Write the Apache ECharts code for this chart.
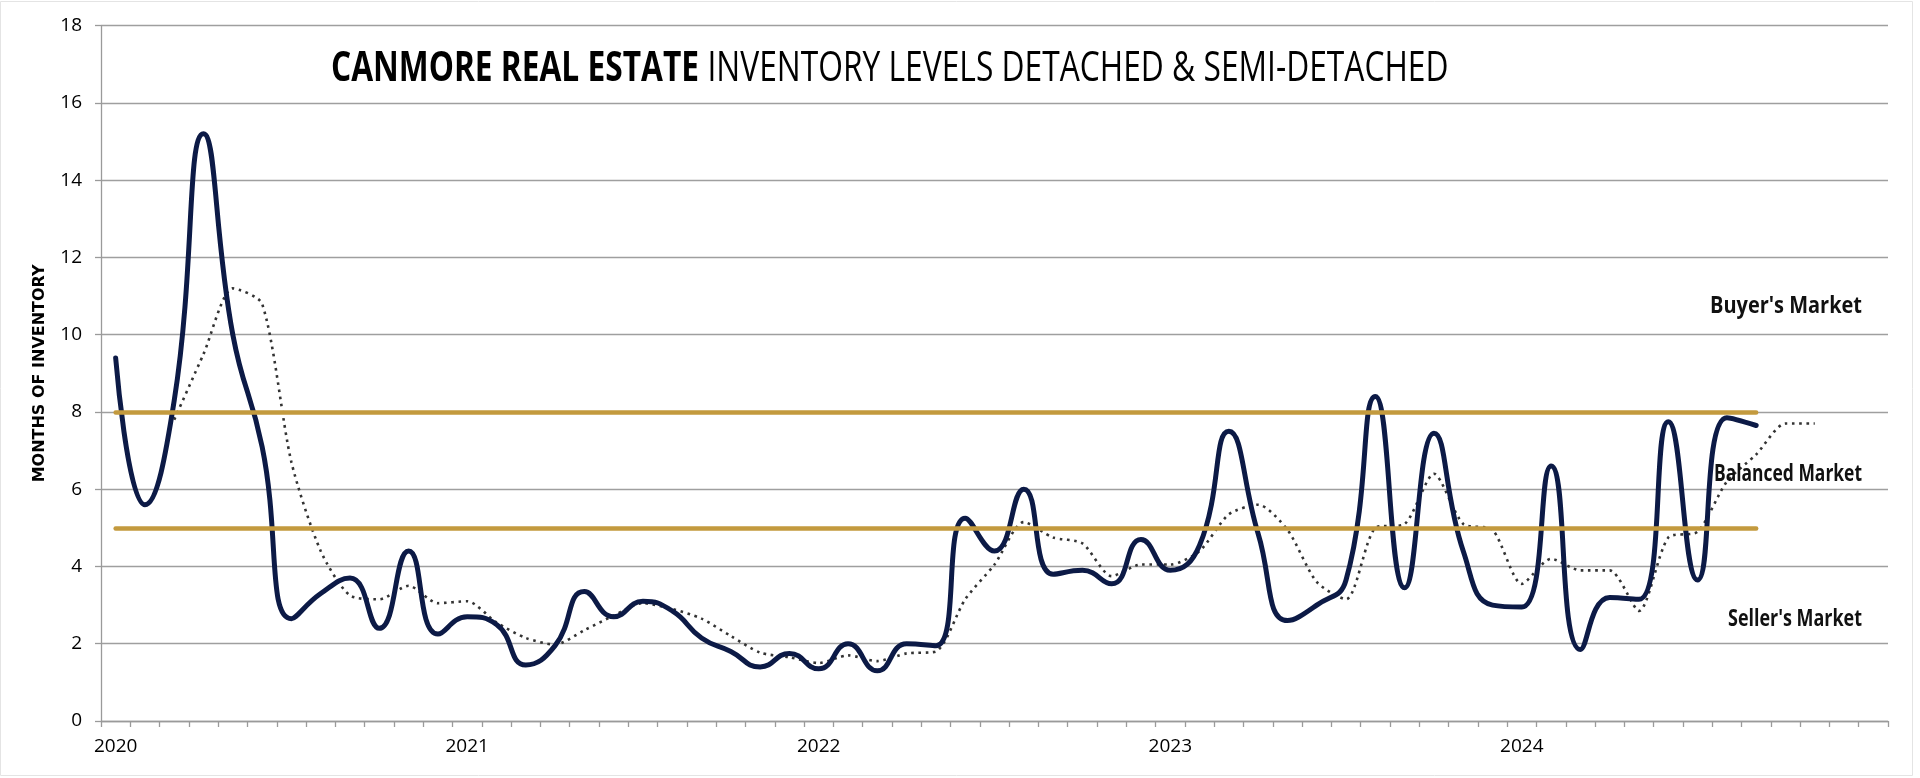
<!DOCTYPE html>
<html>
<head>
<meta charset="utf-8">
<style>
html,body{margin:0;padding:0;background:#fff;}
#chart{width:1920px;height:778px;}
</style>
<script src="https://cdn.jsdelivr.net/npm/echarts@6/dist/echarts.min.js"></script>
</head>
<body>
<div id="chart"></div>
<script>
// ---- DATA ----
const months = [
 '2020-01','2020-02','2020-03','2020-04','2020-05','2020-06','2020-07','2020-08','2020-09','2020-10','2020-11','2020-12',
 '2021-01','2021-02','2021-03','2021-04','2021-05','2021-06','2021-07','2021-08','2021-09','2021-10','2021-11','2021-12',
 '2022-01','2022-02','2022-03','2022-04','2022-05','2022-06','2022-07','2022-08','2022-09','2022-10','2022-11','2022-12',
 '2023-01','2023-02','2023-03','2023-04','2023-05','2023-06','2023-07','2023-08','2023-09','2023-10','2023-11','2023-12',
 '2024-01','2024-02','2024-03','2024-04','2024-05','2024-06','2024-07','2024-08','2024-09','2024-10','2024-11','2024-12',
 '2025-01'
];
const yearTickLabels = ['2020','2021','2022','2023','2024'];

// Monthly months-of-inventory (solid line)
const inventory = [
 9.4, 5.6, 8.3, 15.2, 10.0, 7.1, 2.65, 3.3, 3.7, 2.4, 4.4, 2.25,
 2.7, 2.5, 1.45, 1.95, 3.35, 2.7, 3.1, 2.85, 2.15, 1.8, 1.4, 1.75,
 1.35, 2.0, 1.3, 2.0, 1.95, 5.25, 4.4, 6.0, 3.8, 3.9, 3.55, 4.7,
 3.9, 4.55, 7.5, 4.85, 2.6, 3.0, 3.65, 8.4, 3.45, 7.45, 4.4, 3.0,
 2.95, 6.6, 1.85, 3.2, 3.15, 7.75, 3.65, 7.85, 7.65
];
// Trend (dotted line)
const trend = [
 null, null, 7.8, 9.5, 11.2, 10.8, 6.7, 4.4, 3.25, 3.15, 3.5, 3.05,
 3.1, 2.55, 2.15, 1.98, 2.35, 2.73, 3.05, 2.9, 2.65, 2.2, 1.77, 1.65,
 1.5, 1.7, 1.55, 1.75, 1.8, 3.15, 4.05, 5.15, 4.75, 4.6, 3.75, 4.05,
 4.05, 4.4, 5.35, 5.6, 4.95, 3.6, 3.15, 5.0, 5.1, 6.4, 5.1, 4.95,
 3.55, 4.2, 3.9, 3.9, 2.85, 4.75, 4.9, 6.2, 6.9, 7.7, 7.7
];
// Market thresholds
const balancedLow = 5;
const balancedHigh = 8;
const zoneLabels = ["Buyer's Market", "Balanced Market", "Seller's Market"];
const yTicks = {min: 0, max: 18, interval: 2};

// ---- LAYOUT HELPERS ----
function measure(text, font){
  const c = document.createElement('canvas').getContext('2d');
  c.font = font;
  return c.measureText(text).width;
}
const FAM = '"Open Sans", "Noto Sans", sans-serif';
const titleBoldFont = 'bold 42px ' + FAM;
const titleRegFont = '42px ' + FAM;
const titleBold = 'CANMORE REAL ESTATE';
const titleReg = 'INVENTORY LEVELS DETACHED & SEMI-DETACHED';
const sBold = 368 / measure(titleBold, titleBoldFont);
const sReg = 741 / measure(titleReg, titleRegFont);
const zoneFont = 'bold 23px ' + FAM;
const zoneWidths = [152, 148, 134];
const zoneScale = zoneLabels.map((t, i) => zoneWidths[i] / measure(t, zoneFont));

const GOLD = '#C39A3E';
const NAVY = '#0C1A46';
const lastCat = months[inventory.length - 1];

const chart = echarts.init(document.getElementById('chart'), null, {renderer: 'canvas'});
const zoneY = [306, 474, 619];
const option = {
  animation: false,
  backgroundColor: '#fff',
  grid: {left: 101, right: 32, top: 25.7, bottom: 57, containLabel: false},
  xAxis: {
    type: 'category',
    data: months,
    boundaryGap: true,
    axisLine: {show: true, lineStyle: {color: '#9a9a9a', width: 1.3}},
    axisTick: {show: true, interval: 0, length: 6, lineStyle: {color: '#9a9a9a', width: 1.3}},
    axisLabel: {
      interval: 0,
      margin: 16,
      color: '#000',
      fontFamily: '"Open Sans"',
      fontSize: 19,
      formatter: function(v){
        const y = v.slice(0,4), m = v.slice(5);
        return (m === '01' && yearTickLabels.indexOf(y) >= 0) ? y : '';
      }
    },
    splitLine: {show: false}
  },
  yAxis: {
    type: 'value',
    min: yTicks.min, max: yTicks.max, interval: yTicks.interval,
    name: 'MONTHS OF INVENTORY',
    nameLocation: 'middle',
    nameGap: 53,
    nameTextStyle: {fontFamily: '"DejaVu Sans"', fontWeight: 'bold', fontSize: 16, color: '#000'},
    axisLine: {show: true, lineStyle: {color: '#9a9a9a', width: 1.3}},
    axisTick: {show: true, length: 6, lineStyle: {color: '#9a9a9a', width: 1.3}},
    axisLabel: {margin: 19, color: '#000', fontFamily: '"Open Sans"', fontSize: 19},
    splitLine: {show: true, lineStyle: {color: '#9f9f9f', width: 1.3}}
  },
  series: [
    {
      name: 'Thresholds',
      type: 'line',
      data: [],
      silent: true,
      z: 2,
      markLine: {
        silent: true,
        symbol: ['none','none'],
        label: {show: false},
        lineStyle: {color: GOLD, width: 4.5, type: 'solid', cap: 'round'},
        emphasis: {disabled: true},
        data: [
          [{coord: [months[0], balancedHigh]}, {coord: [lastCat, balancedHigh]}],
          [{coord: [months[0], balancedLow]}, {coord: [lastCat, balancedLow]}]
        ]
      }
    },
    {
      name: 'Trend',
      type: 'line',
      data: trend,
      z: 3,
      smooth: 0.25,
      showSymbol: false,
      connectNulls: false,
      lineStyle: {color: '#333', width: 2.6, type: [2.6, 4.6], cap: 'butt'}
    },
    {
      name: 'Months of Inventory',
      type: 'line',
      data: inventory,
      z: 4,
      smooth: 0.5,
      showSymbol: false,
      lineStyle: {color: NAVY, width: 5, cap: 'round', join: 'round'}
    }
  ],
  graphic: [
    {type: 'rect', silent: true, z: -1, shape: {x: 0.5, y: 1.5, width: 1912, height: 774},
     style: {fill: 'none', stroke: '#e4e4e4', lineWidth: 1}},
    {type: 'text', x: 331, y: 69, scaleX: sBold, silent: true,
     style: {text: titleBold, font: titleBoldFont, fill: '#000', textVerticalAlign: 'middle'}},
    {type: 'text', x: 707.5, y: 69, scaleX: sReg, silent: true,
     style: {text: titleReg, font: titleRegFont, fill: '#000', textVerticalAlign: 'middle'}}
  ].concat(zoneLabels.map((t, i) => ({
    type: 'text', x: 1862, y: zoneY[i], scaleX: zoneScale[i], silent: true, z: 10,
    style: {text: t, font: zoneFont, fill: '#111', textAlign: 'right', textVerticalAlign: 'middle'}
  })))
};
chart.setOption(option);
</script>
</body>
</html>
